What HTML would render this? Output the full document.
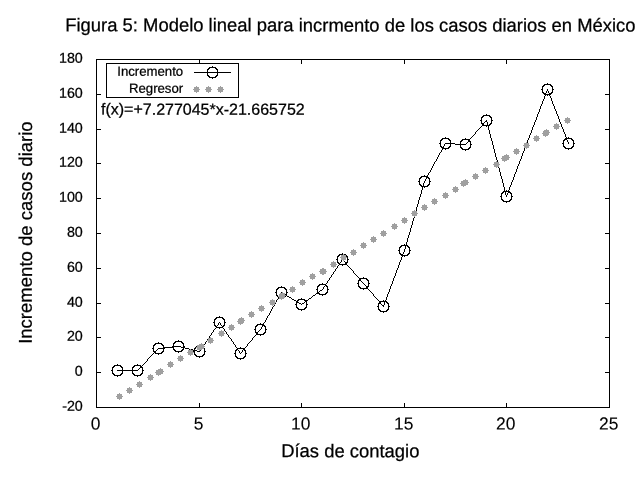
<!DOCTYPE html>
<html><head><meta charset="utf-8"><title>Figura 5</title>
<style>html,body{margin:0;padding:0;background:#fff;}body{width:640px;height:480px;overflow:hidden;}svg{display:block;}text{font-family:"Liberation Sans",sans-serif;fill:#000;stroke:#000;}svg{will-change:transform;}</style>
</head><body>
<svg width="640" height="480" viewBox="0 0 640 480">
<rect x="0" y="0" width="640" height="480" fill="#ffffff"/>
<text transform="translate(350.4 31.4) rotate(0.03)" font-size="18.435" text-anchor="middle" stroke-width="0.25">Figura 5: Modelo lineal para incrmento de los casos diarios en México</text>
<path d="M96 59h514v1h-514zM96 60h1v34h-1zM199 60h1v3h-1zM301 60h1v4h-1zM404 60h1v4h-1zM506 60h1v4h-1zM609 60h1v34h-1zM106 63h133v1h-133zM106 64h1v33h-1zM238 64h1v33h-1zM212 66h1v1h-1zM209 67h7v1h-7zM208 68h2v1h-2zM215 68h2v1h-2zM207 69h2v1h-2zM216 69h2v1h-2zM207 70h1v2h-1zM217 70h1v2h-1zM194 72h37v1h-37zM207 73h1v2h-1zM217 73h1v2h-1zM207 75h2v1h-2zM216 75h2v1h-2zM208 76h2v1h-2zM215 76h2v1h-2zM209 77h7v1h-7zM212 78h1v1h-1zM547 83h1v1h-1zM544 84h7v1h-7zM543 85h2v1h-2zM550 85h2v1h-2zM542 86h2v1h-2zM551 86h2v1h-2zM542 87h1v2h-1zM552 87h1v2h-1zM541 89h2v1h-2zM547 89h1v2h-1zM552 89h2v1h-2zM542 90h1v2h-1zM552 90h1v2h-1zM546 91h1v2h-1zM548 91h1v2h-1zM542 92h2v1h-2zM551 92h2v1h-2zM543 93h3v1h-3zM549 93h3v1h-3zM96 94h5v1h-5zM544 94h7v1h-7zM605 94h5v1h-5zM96 95h1v34h-1zM545 95h1v1h-1zM547 95h1v1h-1zM549 95h1v1h-1zM609 95h1v34h-1zM544 96h1v3h-1zM550 96h1v2h-1zM106 97h133v1h-133zM551 98h1v3h-1zM543 99h1v2h-1zM542 101h1v3h-1zM552 101h1v3h-1zM541 104h1v2h-1zM553 104h1v2h-1zM540 106h1v3h-1zM554 106h1v3h-1zM539 109h1v3h-1zM555 109h1v2h-1zM556 111h1v3h-1zM538 112h1v2h-1zM486 114h1v1h-1zM537 114h1v3h-1zM557 114h1v2h-1zM483 115h7v1h-7zM482 116h2v1h-2zM489 116h2v1h-2zM558 116h1v3h-1zM481 117h2v1h-2zM490 117h2v1h-2zM536 117h1v3h-1zM481 118h1v2h-1zM491 118h1v2h-1zM559 119h1v3h-1zM480 120h2v1h-2zM486 120h1v1h-1zM491 120h2v1h-2zM535 120h1v2h-1zM481 121h1v2h-1zM485 121h2v1h-2zM491 121h1v2h-1zM484 122h1v1h-1zM487 122h1v3h-1zM534 122h1v3h-1zM560 122h1v2h-1zM481 123h3v1h-3zM490 123h2v1h-2zM482 124h2v1h-2zM489 124h2v1h-2zM561 124h1v3h-1zM482 125h8v1h-8zM533 125h1v2h-1zM481 126h1v1h-1zM486 126h1v1h-1zM488 126h1v4h-1zM480 127h1v1h-1zM532 127h1v3h-1zM562 127h1v2h-1zM479 128h1v1h-1zM96 129h5v1h-5zM478 129h1v1h-1zM563 129h1v3h-1zM605 129h5v1h-5zM96 130h1v33h-1zM477 130h1v1h-1zM489 130h1v4h-1zM531 130h1v3h-1zM609 130h1v33h-1zM476 131h1v1h-1zM475 132h1v2h-1zM564 132h1v2h-1zM530 133h1v2h-1zM474 134h1v1h-1zM490 134h1v4h-1zM565 134h1v3h-1zM473 135h1v1h-1zM529 135h1v3h-1zM472 136h1v1h-1zM445 137h1v1h-1zM471 137h1v1h-1zM566 137h1v1h-1zM568 137h1v1h-1zM442 138h7v1h-7zM465 138h1v1h-1zM470 138h1v1h-1zM491 138h1v3h-1zM528 138h1v2h-1zM565 138h7v1h-7zM441 139h2v1h-2zM448 139h2v1h-2zM462 139h8v1h-8zM564 139h3v1h-3zM571 139h2v1h-2zM440 140h2v1h-2zM449 140h2v1h-2zM461 140h2v1h-2zM468 140h2v1h-2zM527 140h1v3h-1zM563 140h2v1h-2zM567 140h1v2h-1zM572 140h2v1h-2zM440 141h1v2h-1zM450 141h1v2h-1zM460 141h2v1h-2zM468 141h3v1h-3zM492 141h1v4h-1zM563 141h1v2h-1zM573 141h1v2h-1zM460 142h1v2h-1zM467 142h1v1h-1zM470 142h1v2h-1zM568 142h1v2h-1zM439 143h2v1h-2zM445 143h10v1h-10zM466 143h1v1h-1zM526 143h1v3h-1zM562 143h2v1h-2zM573 143h2v1h-2zM440 144h1v2h-1zM444 144h1v2h-1zM450 144h1v2h-1zM455 144h11v1h-11zM470 144h2v1h-2zM563 144h1v2h-1zM573 144h1v2h-1zM460 145h1v2h-1zM470 145h1v2h-1zM493 145h1v4h-1zM440 146h2v1h-2zM443 146h1v1h-1zM449 146h2v1h-2zM525 146h1v2h-1zM563 146h2v1h-2zM572 146h2v1h-2zM441 147h3v1h-3zM448 147h2v1h-2zM460 147h2v1h-2zM469 147h2v1h-2zM564 147h2v1h-2zM571 147h2v1h-2zM442 148h7v1h-7zM461 148h2v1h-2zM468 148h2v1h-2zM524 148h1v3h-1zM565 148h7v1h-7zM442 149h1v1h-1zM445 149h1v1h-1zM462 149h7v1h-7zM494 149h1v4h-1zM568 149h1v1h-1zM441 150h1v2h-1zM465 150h1v1h-1zM523 151h1v2h-1zM440 152h1v1h-1zM439 153h1v2h-1zM495 153h1v4h-1zM522 153h1v3h-1zM438 155h1v2h-1zM521 156h1v3h-1zM437 157h1v2h-1zM496 157h1v3h-1zM436 159h1v2h-1zM520 159h1v2h-1zM497 160h1v4h-1zM435 161h1v1h-1zM519 161h1v3h-1zM434 162h1v2h-1zM96 163h5v1h-5zM605 163h5v1h-5zM96 164h1v34h-1zM433 164h1v2h-1zM498 164h1v4h-1zM518 164h1v2h-1zM609 164h1v34h-1zM432 166h1v2h-1zM517 166h1v3h-1zM431 168h1v2h-1zM499 168h1v4h-1zM516 169h1v3h-1zM430 170h1v2h-1zM429 172h1v1h-1zM500 172h1v4h-1zM515 172h1v2h-1zM428 173h1v2h-1zM514 174h1v3h-1zM424 175h1v1h-1zM427 175h1v1h-1zM421 176h7v1h-7zM501 176h1v3h-1zM420 177h2v1h-2zM426 177h3v1h-3zM513 177h1v3h-1zM419 178h2v1h-2zM426 178h1v1h-1zM428 178h2v1h-2zM419 179h1v2h-1zM425 179h1v2h-1zM429 179h1v2h-1zM502 179h1v4h-1zM512 180h1v2h-1zM418 181h2v1h-2zM424 181h1v2h-1zM429 181h2v1h-2zM419 182h1v2h-1zM429 182h1v2h-1zM511 182h1v3h-1zM423 183h1v3h-1zM503 183h1v4h-1zM419 184h2v1h-2zM428 184h2v1h-2zM420 185h2v1h-2zM427 185h2v1h-2zM510 185h1v2h-1zM421 186h7v1h-7zM422 187h1v3h-1zM424 187h1v1h-1zM504 187h1v4h-1zM509 187h1v3h-1zM421 190h1v4h-1zM506 190h1v1h-1zM508 190h1v1h-1zM503 191h7v1h-7zM502 192h2v1h-2zM505 192h1v3h-1zM508 192h3v1h-3zM501 193h2v1h-2zM507 193h1v2h-1zM510 193h2v1h-2zM420 194h1v3h-1zM501 194h1v2h-1zM511 194h1v2h-1zM506 195h1v2h-1zM500 196h2v1h-2zM511 196h2v1h-2zM419 197h1v3h-1zM501 197h1v2h-1zM511 197h1v2h-1zM96 198h5v1h-5zM605 198h5v1h-5zM96 199h1v34h-1zM501 199h2v1h-2zM510 199h2v1h-2zM609 199h1v34h-1zM418 200h1v4h-1zM502 200h2v1h-2zM509 200h2v1h-2zM503 201h7v1h-7zM506 202h1v1h-1zM417 204h1v3h-1zM416 207h1v4h-1zM415 211h1v3h-1zM414 214h1v4h-1zM413 218h1v3h-1zM412 221h1v4h-1zM411 225h1v3h-1zM410 228h1v4h-1zM409 232h1v3h-1zM96 233h5v1h-5zM605 233h5v1h-5zM96 234h1v34h-1zM609 234h1v34h-1zM408 235h1v3h-1zM407 238h1v4h-1zM406 242h1v3h-1zM404 244h1v1h-1zM401 245h7v1h-7zM400 246h2v1h-2zM405 246h1v3h-1zM407 246h2v1h-2zM399 247h2v1h-2zM408 247h2v1h-2zM399 248h1v2h-1zM409 248h1v2h-1zM404 249h1v3h-1zM398 250h2v1h-2zM409 250h2v1h-2zM399 251h1v2h-1zM409 251h1v2h-1zM403 252h1v2h-1zM342 253h1v1h-1zM399 253h2v1h-2zM408 253h2v1h-2zM339 254h7v1h-7zM400 254h3v1h-3zM407 254h2v1h-2zM338 255h2v1h-2zM345 255h2v1h-2zM401 255h7v1h-7zM337 256h2v1h-2zM346 256h2v1h-2zM402 256h1v1h-1zM404 256h1v1h-1zM337 257h1v2h-1zM347 257h1v2h-1zM401 257h1v3h-1zM336 259h2v1h-2zM342 259h1v1h-1zM347 259h2v1h-2zM337 260h1v2h-1zM341 260h1v2h-1zM343 260h1v1h-1zM347 260h1v2h-1zM400 260h1v2h-1zM344 261h1v1h-1zM337 262h2v1h-2zM340 262h1v1h-1zM345 262h3v1h-3zM399 262h1v3h-1zM338 263h2v1h-2zM345 263h2v1h-2zM339 264h8v1h-8zM338 265h1v1h-1zM342 265h1v1h-1zM347 265h1v1h-1zM398 265h1v3h-1zM337 266h1v2h-1zM348 266h1v1h-1zM349 267h1v1h-1zM96 268h5v1h-5zM336 268h1v1h-1zM350 268h1v1h-1zM397 268h1v2h-1zM605 268h5v1h-5zM96 269h1v34h-1zM335 269h1v2h-1zM351 269h1v1h-1zM609 269h1v34h-1zM352 270h1v1h-1zM396 270h1v3h-1zM334 271h1v1h-1zM353 271h1v2h-1zM333 272h1v2h-1zM354 273h1v1h-1zM395 273h1v3h-1zM332 274h1v1h-1zM355 274h1v1h-1zM331 275h1v2h-1zM356 275h1v1h-1zM357 276h1v1h-1zM394 276h1v2h-1zM330 277h1v1h-1zM358 277h1v1h-1zM363 277h1v1h-1zM329 278h1v2h-1zM359 278h8v1h-8zM393 278h1v3h-1zM359 279h2v1h-2zM366 279h2v1h-2zM328 280h1v1h-1zM358 280h3v1h-3zM367 280h2v1h-2zM327 281h1v2h-1zM358 281h1v2h-1zM361 281h1v1h-1zM368 281h1v2h-1zM392 281h1v3h-1zM362 282h1v1h-1zM322 283h1v1h-1zM326 283h1v1h-1zM357 283h2v1h-2zM363 283h1v1h-1zM368 283h2v1h-2zM319 284h7v1h-7zM358 284h1v2h-1zM364 284h1v1h-1zM368 284h1v2h-1zM391 284h1v2h-1zM318 285h2v1h-2zM325 285h2v1h-2zM365 285h1v1h-1zM281 286h1v1h-1zM317 286h2v1h-2zM324 286h1v1h-1zM326 286h2v1h-2zM358 286h2v1h-2zM366 286h3v1h-3zM390 286h1v3h-1zM278 287h7v1h-7zM317 287h1v2h-1zM323 287h1v2h-1zM327 287h1v2h-1zM359 287h2v1h-2zM366 287h2v1h-2zM277 288h2v1h-2zM284 288h2v1h-2zM360 288h8v1h-8zM276 289h2v1h-2zM285 289h2v1h-2zM316 289h2v1h-2zM322 289h1v1h-1zM327 289h2v1h-2zM363 289h1v1h-1zM368 289h1v1h-1zM389 289h1v3h-1zM276 290h1v2h-1zM286 290h1v2h-1zM317 290h1v2h-1zM320 290h2v1h-2zM327 290h1v2h-1zM369 290h1v1h-1zM319 291h1v1h-1zM370 291h1v1h-1zM275 292h2v1h-2zM281 292h1v1h-1zM286 292h2v1h-2zM317 292h2v1h-2zM326 292h2v1h-2zM371 292h1v1h-1zM388 292h1v2h-1zM276 293h1v2h-1zM280 293h1v2h-1zM282 293h2v1h-2zM286 293h1v1h-1zM316 293h4v1h-4zM325 293h2v1h-2zM372 293h1v1h-1zM284 294h3v1h-3zM315 294h1v1h-1zM319 294h7v1h-7zM373 294h1v2h-1zM387 294h1v3h-1zM276 295h2v1h-2zM279 295h1v1h-1zM285 295h2v1h-2zM313 295h2v1h-2zM322 295h1v1h-1zM277 296h3v1h-3zM284 296h2v1h-2zM287 296h2v1h-2zM312 296h1v1h-1zM374 296h1v1h-1zM278 297h7v1h-7zM289 297h2v1h-2zM311 297h1v1h-1zM375 297h1v1h-1zM386 297h1v3h-1zM278 298h1v1h-1zM281 298h1v1h-1zM291 298h1v1h-1zM301 298h1v1h-1zM309 298h2v1h-2zM376 298h1v1h-1zM277 299h1v1h-1zM292 299h2v1h-2zM298 299h7v1h-7zM308 299h1v1h-1zM377 299h1v1h-1zM276 300h1v2h-1zM294 300h2v1h-2zM297 300h2v1h-2zM304 300h4v1h-4zM378 300h1v1h-1zM383 300h1v1h-1zM385 300h1v1h-1zM296 301h2v1h-2zM305 301h2v1h-2zM379 301h8v1h-8zM275 302h1v2h-1zM296 302h3v1h-3zM304 302h1v1h-1zM306 302h1v2h-1zM379 302h2v1h-2zM384 302h1v3h-1zM386 302h2v1h-2zM96 303h5v1h-5zM296 303h1v1h-1zM299 303h2v1h-2zM302 303h2v1h-2zM378 303h3v1h-3zM387 303h2v1h-2zM605 303h5v1h-5zM96 304h1v33h-1zM274 304h1v2h-1zM295 304h2v1h-2zM301 304h1v1h-1zM306 304h2v1h-2zM378 304h1v2h-1zM381 304h1v1h-1zM388 304h1v2h-1zM609 304h1v33h-1zM296 305h1v2h-1zM306 305h1v2h-1zM382 305h2v1h-2zM273 306h1v1h-1zM377 306h2v1h-2zM383 306h1v1h-1zM388 306h2v1h-2zM272 307h1v2h-1zM296 307h2v1h-2zM305 307h2v1h-2zM378 307h1v2h-1zM388 307h1v2h-1zM297 308h2v1h-2zM304 308h2v1h-2zM271 309h1v2h-1zM298 309h7v1h-7zM378 309h2v1h-2zM387 309h2v1h-2zM301 310h1v1h-1zM379 310h2v1h-2zM386 310h2v1h-2zM270 311h1v2h-1zM380 311h7v1h-7zM383 312h1v1h-1zM269 313h1v2h-1zM268 315h1v1h-1zM219 316h1v1h-1zM267 316h1v2h-1zM216 317h7v1h-7zM215 318h2v1h-2zM222 318h2v1h-2zM266 318h1v2h-1zM214 319h2v1h-2zM223 319h2v1h-2zM214 320h1v2h-1zM224 320h1v2h-1zM265 320h1v2h-1zM213 322h2v1h-2zM219 322h1v1h-1zM224 322h2v1h-2zM264 322h1v1h-1zM214 323h1v2h-1zM218 323h1v2h-1zM220 323h1v2h-1zM224 323h1v2h-1zM260 323h1v1h-1zM263 323h1v1h-1zM257 324h7v1h-7zM214 325h2v1h-2zM217 325h1v1h-1zM221 325h1v1h-1zM223 325h2v1h-2zM256 325h2v1h-2zM262 325h3v1h-3zM215 326h2v1h-2zM222 326h2v1h-2zM255 326h2v1h-2zM262 326h1v1h-1zM264 326h2v1h-2zM216 327h7v1h-7zM255 327h1v2h-1zM261 327h1v2h-1zM265 327h1v2h-1zM215 328h1v1h-1zM219 328h1v1h-1zM223 328h1v1h-1zM214 329h1v1h-1zM224 329h1v2h-1zM254 329h2v1h-2zM260 329h1v1h-1zM265 329h2v1h-2zM213 330h1v2h-1zM255 330h1v2h-1zM259 330h1v1h-1zM265 330h1v2h-1zM225 331h1v1h-1zM258 331h1v1h-1zM212 332h1v1h-1zM226 332h1v2h-1zM255 332h3v1h-3zM264 332h2v1h-2zM211 333h1v2h-1zM256 333h2v1h-2zM263 333h2v1h-2zM227 334h1v1h-1zM256 334h8v1h-8zM210 335h1v1h-1zM228 335h1v2h-1zM255 335h1v1h-1zM260 335h1v1h-1zM209 336h1v2h-1zM254 336h1v1h-1zM96 337h5v1h-5zM229 337h1v1h-1zM253 337h1v1h-1zM605 337h5v1h-5zM96 338h1v34h-1zM208 338h1v1h-1zM230 338h1v1h-1zM252 338h1v2h-1zM609 338h1v34h-1zM207 339h1v2h-1zM231 339h1v2h-1zM178 340h1v1h-1zM251 340h1v1h-1zM175 341h7v1h-7zM206 341h1v1h-1zM232 341h1v1h-1zM250 341h1v1h-1zM158 342h1v1h-1zM174 342h2v1h-2zM181 342h2v1h-2zM205 342h1v2h-1zM233 342h1v2h-1zM249 342h1v1h-1zM155 343h7v1h-7zM173 343h2v1h-2zM182 343h2v1h-2zM248 343h1v1h-1zM154 344h2v1h-2zM161 344h2v1h-2zM173 344h1v2h-1zM183 344h1v2h-1zM204 344h1v1h-1zM234 344h1v1h-1zM247 344h1v2h-1zM153 345h2v1h-2zM162 345h2v1h-2zM199 345h1v1h-1zM203 345h1v1h-1zM235 345h1v2h-1zM153 346h1v2h-1zM163 346h1v1h-1zM172 346h9v1h-9zM183 346h2v1h-2zM196 346h7v1h-7zM246 346h1v1h-1zM163 347h11v1h-11zM181 347h4v1h-4zM195 347h2v1h-2zM202 347h2v1h-2zM236 347h1v1h-1zM240 347h1v1h-1zM245 347h1v1h-1zM152 348h2v1h-2zM158 348h7v1h-7zM173 348h1v1h-1zM183 348h1v1h-1zM185 348h4v1h-4zM194 348h2v1h-2zM201 348h1v1h-1zM203 348h2v1h-2zM237 348h8v1h-8zM153 349h1v2h-1zM157 349h1v1h-1zM163 349h1v2h-1zM173 349h2v1h-2zM182 349h2v1h-2zM189 349h4v1h-4zM194 349h1v1h-1zM200 349h1v2h-1zM204 349h1v2h-1zM236 349h2v1h-2zM243 349h2v1h-2zM156 350h1v1h-1zM174 350h2v1h-2zM181 350h2v1h-2zM193 350h4v1h-4zM235 350h2v1h-2zM238 350h1v1h-1zM242 350h1v2h-1zM244 350h2v1h-2zM153 351h3v1h-3zM162 351h2v1h-2zM175 351h7v1h-7zM193 351h2v1h-2zM197 351h3v1h-3zM204 351h2v1h-2zM235 351h1v2h-1zM239 351h1v2h-1zM245 351h1v2h-1zM154 352h2v1h-2zM161 352h2v1h-2zM178 352h1v1h-1zM194 352h1v2h-1zM204 352h1v2h-1zM241 352h1v1h-1zM153 353h1v1h-1zM155 353h7v1h-7zM234 353h2v1h-2zM240 353h1v1h-1zM245 353h2v1h-2zM152 354h1v1h-1zM158 354h1v1h-1zM194 354h2v1h-2zM203 354h2v1h-2zM235 354h1v2h-1zM245 354h1v2h-1zM151 355h1v1h-1zM195 355h2v1h-2zM202 355h2v1h-2zM150 356h1v1h-1zM196 356h7v1h-7zM235 356h2v1h-2zM244 356h2v1h-2zM149 357h1v1h-1zM199 357h1v1h-1zM236 357h2v1h-2zM243 357h2v1h-2zM148 358h1v1h-1zM237 358h7v1h-7zM147 359h1v2h-1zM240 359h1v1h-1zM146 361h1v1h-1zM145 362h1v1h-1zM144 363h1v1h-1zM117 364h1v1h-1zM137 364h1v1h-1zM143 364h1v1h-1zM114 365h7v1h-7zM134 365h7v1h-7zM142 365h1v1h-1zM113 366h2v1h-2zM120 366h2v1h-2zM133 366h2v1h-2zM140 366h2v1h-2zM112 367h2v1h-2zM121 367h2v1h-2zM132 367h2v1h-2zM140 367h3v1h-3zM112 368h1v2h-1zM122 368h1v2h-1zM132 368h1v2h-1zM139 368h1v1h-1zM142 368h1v2h-1zM138 369h1v1h-1zM111 370h2v1h-2zM117 370h21v1h-21zM142 370h2v1h-2zM112 371h1v2h-1zM122 371h1v2h-1zM132 371h1v2h-1zM142 371h1v2h-1zM96 372h5v1h-5zM605 372h5v1h-5zM96 373h1v34h-1zM112 373h2v1h-2zM121 373h2v1h-2zM132 373h2v1h-2zM141 373h2v1h-2zM609 373h1v34h-1zM113 374h2v1h-2zM120 374h2v1h-2zM133 374h2v1h-2zM140 374h2v1h-2zM114 375h7v1h-7zM134 375h7v1h-7zM117 376h1v1h-1zM137 376h1v1h-1zM199 403h1v4h-1zM301 403h1v4h-1zM404 403h1v4h-1zM506 403h1v4h-1zM96 407h514v1h-514z" fill="#000" stroke="none" shape-rendering="crispEdges"/>
<path d="M117 394h5v5h-5zM116 396h1v1h-1zM122 396h1v1h-1zM119 393h1v1h-1zM119 399h1v1h-1zM127 388h5v5h-5zM126 390h1v1h-1zM132 390h1v1h-1zM129 387h1v1h-1zM129 393h1v1h-1zM137 382h5v5h-5zM136 384h1v1h-1zM142 384h1v1h-1zM139 381h1v1h-1zM139 387h1v1h-1zM148 375h5v5h-5zM147 377h1v1h-1zM153 377h1v1h-1zM150 374h1v1h-1zM150 380h1v1h-1zM156 370h5v5h-5zM155 372h1v1h-1zM161 372h1v1h-1zM158 369h1v1h-1zM158 375h1v1h-1zM158 369h5v5h-5zM157 371h1v1h-1zM163 371h1v1h-1zM160 368h1v1h-1zM160 374h1v1h-1zM168 362h5v5h-5zM167 364h1v1h-1zM173 364h1v1h-1zM170 361h1v1h-1zM170 367h1v1h-1zM178 356h5v5h-5zM177 358h1v1h-1zM183 358h1v1h-1zM180 355h1v1h-1zM180 361h1v1h-1zM188 350h5v5h-5zM187 352h1v1h-1zM193 352h1v1h-1zM190 349h1v1h-1zM190 355h1v1h-1zM197 345h5v5h-5zM196 347h1v1h-1zM202 347h1v1h-1zM199 344h1v1h-1zM199 350h1v1h-1zM199 344h5v5h-5zM198 346h1v1h-1zM204 346h1v1h-1zM201 343h1v1h-1zM201 349h1v1h-1zM208 338h5v5h-5zM207 340h1v1h-1zM213 340h1v1h-1zM210 337h1v1h-1zM210 343h1v1h-1zM219 331h5v5h-5zM218 333h1v1h-1zM224 333h1v1h-1zM221 330h1v1h-1zM221 336h1v1h-1zM229 325h5v5h-5zM228 327h1v1h-1zM234 327h1v1h-1zM231 324h1v1h-1zM231 330h1v1h-1zM238 319h5v5h-5zM237 321h1v1h-1zM243 321h1v1h-1zM240 318h1v1h-1zM240 324h1v1h-1zM239 318h5v5h-5zM238 320h1v1h-1zM244 320h1v1h-1zM241 317h1v1h-1zM241 323h1v1h-1zM249 312h5v5h-5zM248 314h1v1h-1zM254 314h1v1h-1zM251 311h1v1h-1zM251 317h1v1h-1zM259 306h5v5h-5zM258 308h1v1h-1zM264 308h1v1h-1zM261 305h1v1h-1zM261 311h1v1h-1zM270 300h5v5h-5zM269 302h1v1h-1zM275 302h1v1h-1zM272 299h1v1h-1zM272 305h1v1h-1zM279 294h5v5h-5zM278 296h1v1h-1zM284 296h1v1h-1zM281 293h1v1h-1zM281 299h1v1h-1zM280 293h5v5h-5zM279 295h1v1h-1zM285 295h1v1h-1zM282 292h1v1h-1zM282 298h1v1h-1zM290 287h5v5h-5zM289 289h1v1h-1zM295 289h1v1h-1zM292 286h1v1h-1zM292 292h1v1h-1zM300 280h5v5h-5zM299 282h1v1h-1zM305 282h1v1h-1zM302 279h1v1h-1zM302 285h1v1h-1zM310 274h5v5h-5zM309 276h1v1h-1zM315 276h1v1h-1zM312 273h1v1h-1zM312 279h1v1h-1zM320 269h5v5h-5zM319 271h1v1h-1zM325 271h1v1h-1zM322 268h1v1h-1zM322 274h1v1h-1zM321 269h5v5h-5zM320 271h1v1h-1zM326 271h1v1h-1zM323 268h1v1h-1zM323 274h1v1h-1zM331 262h5v5h-5zM330 264h1v1h-1zM336 264h1v1h-1zM333 261h1v1h-1zM333 267h1v1h-1zM341 255h5v5h-5zM340 257h1v1h-1zM346 257h1v1h-1zM343 254h1v1h-1zM343 260h1v1h-1zM351 250h5v5h-5zM350 252h1v1h-1zM356 252h1v1h-1zM353 249h1v1h-1zM353 255h1v1h-1zM361 243h5v5h-5zM360 245h1v1h-1zM366 245h1v1h-1zM363 242h1v1h-1zM363 248h1v1h-1zM371 237h5v5h-5zM370 239h1v1h-1zM376 239h1v1h-1zM373 236h1v1h-1zM373 242h1v1h-1zM381 231h5v5h-5zM380 233h1v1h-1zM386 233h1v1h-1zM383 230h1v1h-1zM383 236h1v1h-1zM392 224h5v5h-5zM391 226h1v1h-1zM397 226h1v1h-1zM394 223h1v1h-1zM394 229h1v1h-1zM402 218h5v5h-5zM401 220h1v1h-1zM407 220h1v1h-1zM404 217h1v1h-1zM404 223h1v1h-1zM412 211h5v5h-5zM411 213h1v1h-1zM417 213h1v1h-1zM414 210h1v1h-1zM414 216h1v1h-1zM422 205h5v5h-5zM421 207h1v1h-1zM427 207h1v1h-1zM424 204h1v1h-1zM424 210h1v1h-1zM432 199h5v5h-5zM431 201h1v1h-1zM437 201h1v1h-1zM434 198h1v1h-1zM434 204h1v1h-1zM443 193h5v5h-5zM442 195h1v1h-1zM448 195h1v1h-1zM445 192h1v1h-1zM445 198h1v1h-1zM453 187h5v5h-5zM452 189h1v1h-1zM458 189h1v1h-1zM455 186h1v1h-1zM455 192h1v1h-1zM461 181h5v5h-5zM460 183h1v1h-1zM466 183h1v1h-1zM463 180h1v1h-1zM463 186h1v1h-1zM463 180h5v5h-5zM462 182h1v1h-1zM468 182h1v1h-1zM465 179h1v1h-1zM465 185h1v1h-1zM473 174h5v5h-5zM472 176h1v1h-1zM478 176h1v1h-1zM475 173h1v1h-1zM475 179h1v1h-1zM483 168h5v5h-5zM482 170h1v1h-1zM488 170h1v1h-1zM485 167h1v1h-1zM485 173h1v1h-1zM494 162h5v5h-5zM493 164h1v1h-1zM499 164h1v1h-1zM496 161h1v1h-1zM496 167h1v1h-1zM502 156h5v5h-5zM501 158h1v1h-1zM507 158h1v1h-1zM504 155h1v1h-1zM504 161h1v1h-1zM504 155h5v5h-5zM503 157h1v1h-1zM509 157h1v1h-1zM506 154h1v1h-1zM506 160h1v1h-1zM514 149h5v5h-5zM513 151h1v1h-1zM519 151h1v1h-1zM516 148h1v1h-1zM516 154h1v1h-1zM524 143h5v5h-5zM523 145h1v1h-1zM529 145h1v1h-1zM526 142h1v1h-1zM526 148h1v1h-1zM534 136h5v5h-5zM533 138h1v1h-1zM539 138h1v1h-1zM536 135h1v1h-1zM536 141h1v1h-1zM543 131h5v5h-5zM542 133h1v1h-1zM548 133h1v1h-1zM545 130h1v1h-1zM545 136h1v1h-1zM544 130h5v5h-5zM543 132h1v1h-1zM549 132h1v1h-1zM546 129h1v1h-1zM546 135h1v1h-1zM554 124h5v5h-5zM553 126h1v1h-1zM559 126h1v1h-1zM556 123h1v1h-1zM556 129h1v1h-1zM565 118h5v5h-5zM564 120h1v1h-1zM570 120h1v1h-1zM567 117h1v1h-1zM567 123h1v1h-1zM194 87h5v5h-5zM193 89h1v1h-1zM199 89h1v1h-1zM196 86h1v1h-1zM196 92h1v1h-1zM206 87h5v5h-5zM205 89h1v1h-1zM211 89h1v1h-1zM208 86h1v1h-1zM208 92h1v1h-1zM218 87h5v5h-5zM217 89h1v1h-1zM223 89h1v1h-1zM220 86h1v1h-1zM220 92h1v1h-1z" fill="#a0a0a0" stroke="none" shape-rendering="crispEdges"/>
<text transform="translate(82.8 410.7) rotate(0.03)" font-size="14.3" text-anchor="end" stroke-width="0.25">-20</text>
<text transform="translate(82.8 375.7) rotate(0.03)" font-size="14.3" text-anchor="end" stroke-width="0.25">0</text>
<text transform="translate(82.8 340.7) rotate(0.03)" font-size="14.3" text-anchor="end" stroke-width="0.25">20</text>
<text transform="translate(82.8 306.7) rotate(0.03)" font-size="14.3" text-anchor="end" stroke-width="0.25">40</text>
<text transform="translate(82.8 271.7) rotate(0.03)" font-size="14.3" text-anchor="end" stroke-width="0.25">60</text>
<text transform="translate(82.8 236.7) rotate(0.03)" font-size="14.3" text-anchor="end" stroke-width="0.25">80</text>
<text transform="translate(82.8 201.7) rotate(0.03)" font-size="14.3" text-anchor="end" stroke-width="0.25">100</text>
<text transform="translate(82.8 166.7) rotate(0.03)" font-size="14.3" text-anchor="end" stroke-width="0.25">120</text>
<text transform="translate(82.8 132.7) rotate(0.03)" font-size="14.3" text-anchor="end" stroke-width="0.25">140</text>
<text transform="translate(82.8 97.7) rotate(0.03)" font-size="14.3" text-anchor="end" stroke-width="0.25">160</text>
<text transform="translate(82.8 62.7) rotate(0.03)" font-size="14.3" text-anchor="end" stroke-width="0.25">180</text>
<text transform="translate(95.7 429.5) rotate(0.03)" font-size="17.4" text-anchor="middle" stroke-width="0.1">0</text>
<text transform="translate(198.7 429.5) rotate(0.03)" font-size="17.4" text-anchor="middle" stroke-width="0.1">5</text>
<text transform="translate(300.7 429.5) rotate(0.03)" font-size="17.4" text-anchor="middle" stroke-width="0.1">10</text>
<text transform="translate(403.7 429.5) rotate(0.03)" font-size="17.4" text-anchor="middle" stroke-width="0.1">15</text>
<text transform="translate(505.7 429.5) rotate(0.03)" font-size="17.4" text-anchor="middle" stroke-width="0.1">20</text>
<text transform="translate(608.7 429.5) rotate(0.03)" font-size="17.4" text-anchor="middle" stroke-width="0.1">25</text>
<text transform="translate(183.2 75.8) rotate(0.03)" font-size="13.2" text-anchor="end" stroke-width="0.25">Incremento</text>
<text transform="translate(183.2 92.7) rotate(0.03)" font-size="13.2" text-anchor="end" stroke-width="0.25">Regresor</text>
<text transform="translate(101 114.6) rotate(0.03)" font-size="16" text-anchor="start" stroke-width="0.25">f(x)=+7.277045*x-21.665752</text>
<text transform="translate(350.3 457.15) rotate(0.03)" font-size="18.435" text-anchor="middle" stroke-width="0.25">Días de contagio</text>
<text transform="translate(31.9 232.6) rotate(-89.97)" font-size="18.55" text-anchor="middle" stroke-width="0.25">Incremento de casos diario</text>
</svg></body></html>
